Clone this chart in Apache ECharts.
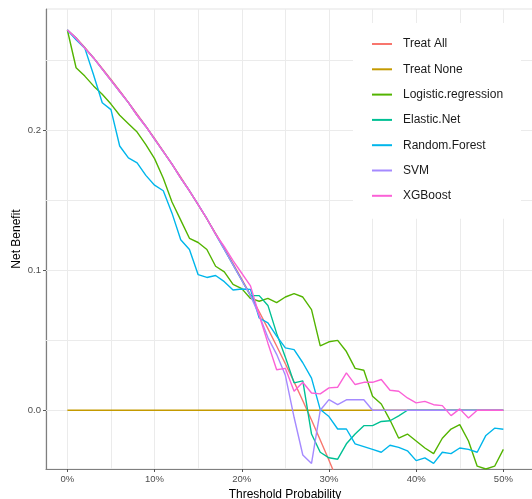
<!DOCTYPE html>
<html>
<head>
<meta charset="utf-8">
<script src="https://cdn.jsdelivr.net/npm/echarts@6/dist/echarts.min.js"></script>
<style>
  html, body { margin: 0; padding: 0; background: #fff; }
  #chart { width: 532px; height: 499px; }
</style>
</head>
<body>
<div id="chart"></div>
<script>
// threshold probability in percent
const thresholds = [0,1,2,3,4,5,6,7,8,9,10,11,12,13,14,15,16,17,18,19,20,21,22,23,24,25,26,27,28,29,30,31,32,33,34,35,36,37,38,39,40,41,42,43,44,45,46,47,48,49,50];

// net benefit (treat all only drawn down to ~31%)
const treatAll = [0.272,0.2665,0.2595,0.2522,0.2445,0.2366,0.2285,0.2202,0.2118,0.2032,0.1944,0.1854,0.1761,0.1667,0.157,0.147,0.1369,0.1265,0.1159,0.1049,0.0938,0.0823,0.0705,0.0584,0.046,0.0333,0.0203,0.0068,-0.007,-0.0212,-0.0357,-0.0507];
const treatNone = [0,0,0,0,0,0,0,0,0,0,0,0,0,0,0,0,0,0,0,0,0,0,0,0,0,0,0,0,0,0,0,0,0,0,0,0,0,0,0,0,0,0,0,0,0,0,0,0,0,0,0];
const logistic = [0.272,0.245,0.239,0.232,0.226,0.219,0.211,0.205,0.199,0.190,0.180,0.166,0.149,0.136,0.123,0.120,0.115,0.103,0.099,0.090,0.087,0.080,0.078,0.080,0.077,0.081,0.0835,0.081,0.072,0.046,0.049,0.050,0.042,0.030,0.0286,0.010,0.0045,-0.007,-0.020,-0.017,-0.022,-0.027,-0.031,-0.020,-0.0134,-0.0103,-0.022,-0.040,-0.042,-0.040,-0.028];
const elasticNet = [0.272,0.266,0.259,0.252,0.244,0.236,0.228,0.220,0.211,0.203,0.194,0.185,0.176,0.166,0.157,0.147,0.137,0.126,0.115,0.104,0.093,0.082,0.082,0.075,0.055,0.038,0.0196,0.021,-0.017,-0.030,-0.034,-0.035,-0.024,-0.017,-0.011,-0.011,-0.008,-0.0075,-0.004,0,0,0,0,0,0,0,0,0,0,0,0];
const randomForest = [0.272,0.265,0.259,0.240,0.220,0.215,0.189,0.1805,0.177,0.168,0.161,0.157,0.141,0.122,0.115,0.097,0.095,0.0964,0.092,0.086,0.0867,0.0865,0.066,0.0625,0.053,0.0446,0.0434,0.034,0.023,0.0005,-0.0045,-0.0134,-0.0134,-0.024,-0.026,-0.028,-0.030,-0.025,-0.0265,-0.029,-0.036,-0.034,-0.038,-0.030,-0.031,-0.027,-0.028,-0.030,-0.018,-0.0128,-0.0136];
const svm = [0.272,0.266,0.259,0.252,0.244,0.236,0.228,0.220,0.211,0.203,0.194,0.185,0.176,0.166,0.157,0.147,0.137,0.126,0.115,0.104,0.093,0.082,0.068,0.052,0.040,0.025,-0.005,-0.032,-0.038,0,0.0076,0.004,0.0075,0.0075,0.0075,0,0,0,0,0,0,0,0,0,0,0,0,0,0,0,0];
const xgboost = [0.272,0.266,0.259,0.252,0.244,0.236,0.228,0.220,0.211,0.203,0.194,0.185,0.176,0.166,0.157,0.147,0.137,0.126,0.117,0.107,0.098,0.089,0.068,0.048,0.029,0.030,0.0136,0.020,0.0124,0.0117,0.016,0.0165,0.0267,0.0184,0.020,0.020,0.022,0.0143,0.0136,0.0088,0.0053,0.0064,0.004,0.0033,-0.0038,0.001,-0.0055,0,0,0,0];

const xTicks = [0, 10, 20, 30, 40, 50];
const yTicks = [0, 0.1, 0.2];
const xGridLines = [0, 5, 10, 15, 20, 25, 30, 35, 40, 45, 50];
const yGridLines = [0, 0.05, 0.1, 0.15, 0.2, 0.25];

const seriesNames = ['Treat All', 'Treat None', 'Logistic.regression', 'Elastic.Net', 'Random.Forest', 'SVM', 'XGBoost'];
const seriesValues = [treatAll, treatNone, logistic, elasticNet, randomForest, svm, xgboost];
const colors = ['#F8766D', '#C49A00', '#53B400', '#00C094', '#00B6EB', '#A58AFF', '#FB61D7'];

const chart = echarts.init(document.getElementById('chart'), null, { renderer: 'canvas' });

const gridStyle = { color: '#ebebeb', width: 1, type: 'solid' };

const lineSeries = seriesNames.map((name, i) => ({
  name,
  type: 'line',
  data: seriesValues[i].map((v, j) => [thresholds[j], v]),
  showSymbol: false,
  symbol: 'none',
  clip: true,
  lineStyle: { color: colors[i], width: 1.4 },
  itemStyle: { color: colors[i] },
  emphasis: { disabled: true },
  z: 3 + i
}));

const option = {
  animation: false,
  color: colors,
  grid: {
    left: 46,
    right: -1,
    top: 9,
    bottom: 30,
    outerBoundsMode: 'none',
    containLabel: false,
    show: true,
    borderColor: '#e3e3e3',
    borderWidth: 1,
    backgroundColor: '#fff'
  },
  legend: {
    data: seriesNames,
    orient: 'vertical',
    left: 353,
    top: 23,
    backgroundColor: '#fff',
    padding: [14, 18, 16, 19],
    itemWidth: 20,
    itemHeight: 2,
    itemGap: 11.3,
    icon: 'rect',
    textStyle: {
      fontFamily: 'Liberation Sans, Arial, sans-serif',
      fontSize: 12,
      color: '#1a1a1a',
      lineHeight: 14,
      padding: [0, 0, 0, 6]
    },
    z: 20
  },
  xAxis: {
    type: 'value',
    min: -2.45,
    max: 53.4,
    name: 'Threshold Probability',
    nameLocation: 'middle',
    nameGap: 18,
    nameTextStyle: {
      fontFamily: 'Liberation Sans, Arial, sans-serif',
      fontSize: 12,
      color: '#000',
      verticalAlign: 'top',
      padding: [0, 9, 0, 0]
    },
    axisLine: { show: true, onZero: false, lineStyle: { color: '#7f7f7f', width: 1.2 } },
    axisTick: { show: true, length: 3, customValues: xTicks, lineStyle: { color: '#555' } },
    axisLabel: {
      customValues: xTicks,
      formatter: v => v + '%',
      margin: 5,
      fontFamily: 'Liberation Sans, Arial, sans-serif',
      fontSize: 9.5,
      color: '#4d4d4d'
    },
    splitLine: { show: false }
  },
  yAxis: {
    type: 'value',
    min: -0.042,
    max: 0.287,
    name: 'Net Benefit',
    nameLocation: 'middle',
    nameGap: 23,
    nameMoveOverlap: false,
    nameRotate: 90,
    nameTextStyle: {
      fontFamily: 'Liberation Sans, Arial, sans-serif',
      fontSize: 12,
      color: '#000'
    },
    axisLine: { show: true, onZero: false, lineStyle: { color: '#7f7f7f', width: 1.2 } },
    axisTick: { show: true, length: 3, customValues: yTicks, lineStyle: { color: '#555' } },
    axisLabel: {
      customValues: yTicks,
      formatter: v => v.toFixed(1),
      margin: 5,
      fontFamily: 'Liberation Sans, Arial, sans-serif',
      fontSize: 9.5,
      color: '#4d4d4d'
    },
    splitLine: { show: false }
  },
  series: [
    {
      name: 'grid',
      type: 'line',
      data: [],
      silent: true,
      z: 1,
      markLine: {
        silent: true,
        symbol: 'none',
        animation: false,
        z: 1,
        label: { show: false },
        lineStyle: gridStyle,
        emphasis: { disabled: true },
        data: xGridLines.map(x => ({ xAxis: x })).concat(yGridLines.map(y => ({ yAxis: y })))
      }
    }
  ].concat(lineSeries)
};

chart.setOption(option);
</script>
</body>
</html>
